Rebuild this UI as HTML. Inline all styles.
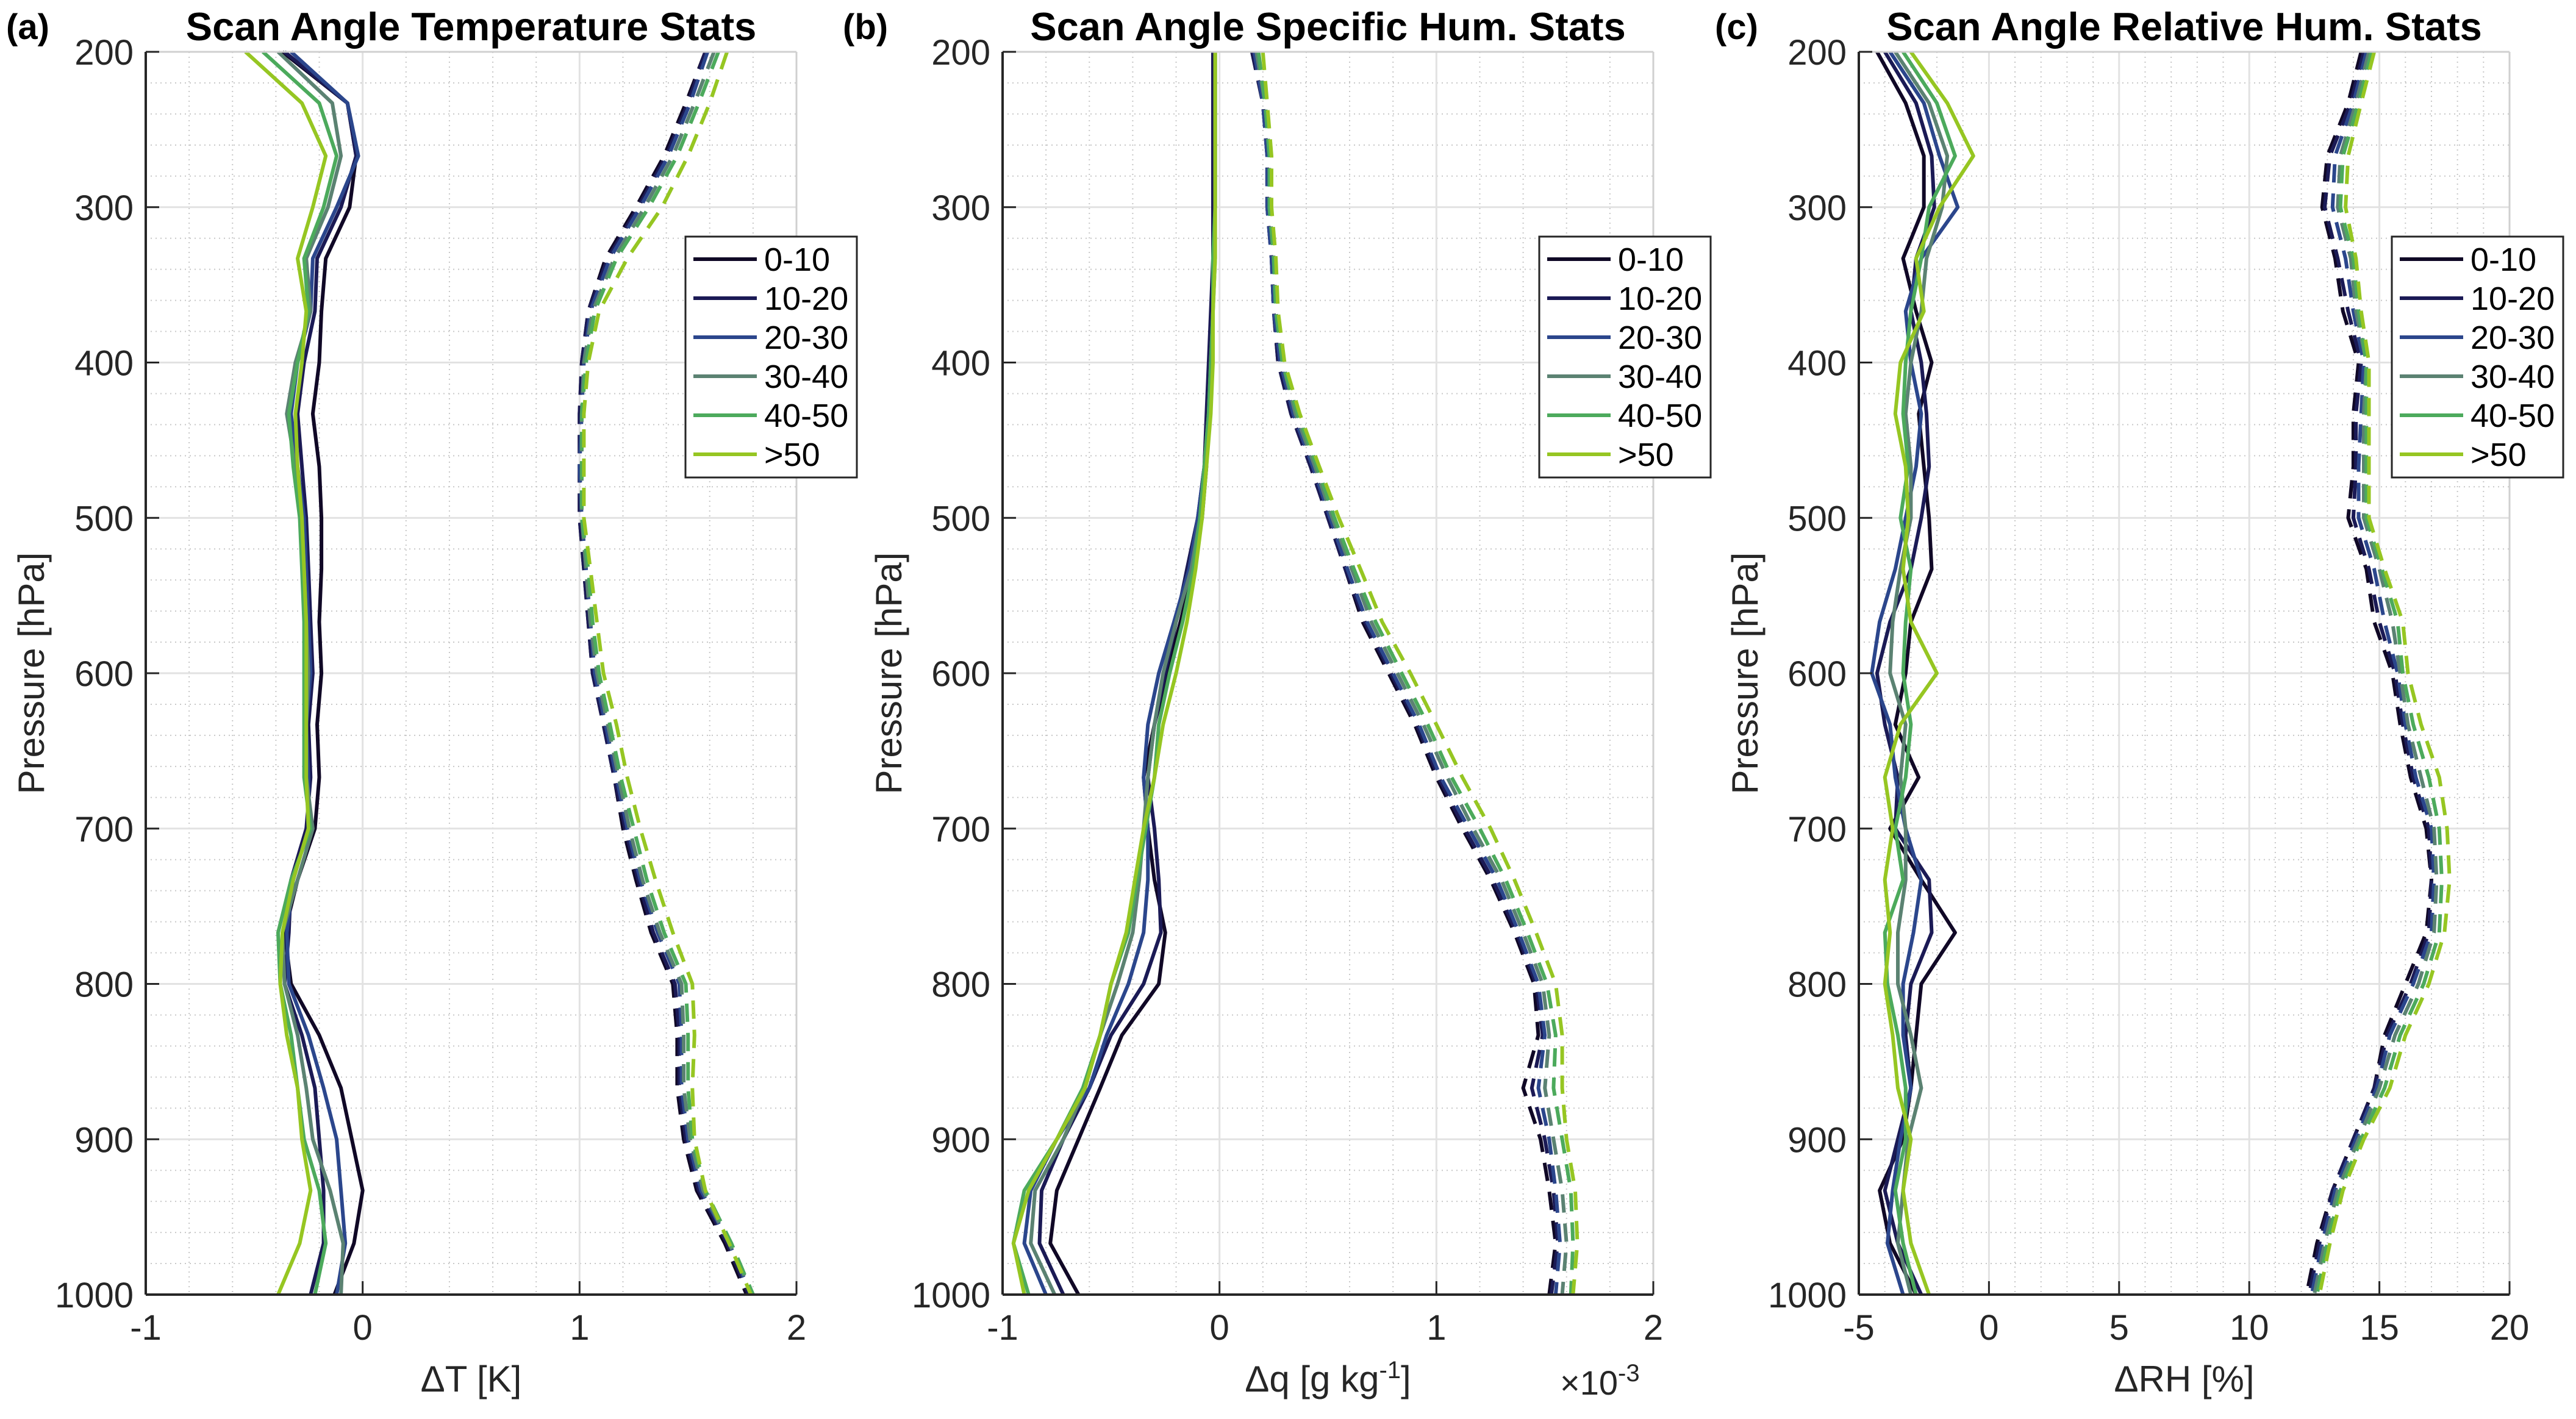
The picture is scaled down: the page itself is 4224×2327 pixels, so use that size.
<!DOCTYPE html>
<html><head><meta charset="utf-8">
<style>
html,body{margin:0;padding:0;background:#fff;}
svg{display:block;font-family:"Liberation Sans",Arial,sans-serif;}
</style></head>
<body>
<svg id="fig" width="4224" height="2327" viewBox="0 0 4224 2327" xmlns="http://www.w3.org/2000/svg"></svg>
<script>
const levels=[200,233,267,300,333,367,400,433,467,500,533,567,600,633,667,700,733,767,800,833,867,900,933,967,1000];
const seriesNames=["0-10","10-20","20-30","30-40","40-50",">50"];
const colors=["#100826","#1b1a55","#2b468c","#5b8272","#4caa5c","#96c622"];

// Panel (a) temperature means
const tMean0=[-0.37,-0.07,-0.03,-0.06,-0.17,-0.19,-0.2,-0.23,-0.2,-0.19,-0.19,-0.2,-0.19,-0.21,-0.2,-0.22,-0.3,-0.36,-0.33,-0.2,-0.1,-0.05,0,-0.04,-0.13];
const tMean1=[-0.36,-0.07,-0.03,-0.1,-0.21,-0.22,-0.27,-0.3,-0.28,-0.26,-0.25,-0.24,-0.23,-0.25,-0.24,-0.26,-0.33,-0.34,-0.36,-0.28,-0.22,-0.2,-0.18,-0.18,-0.24];
const tMean2=[-0.33,-0.07,-0.02,-0.12,-0.23,-0.24,-0.3,-0.33,-0.3,-0.27,-0.26,-0.25,-0.24,-0.26,-0.25,-0.25,-0.32,-0.35,-0.34,-0.25,-0.18,-0.12,-0.1,-0.08,-0.12];
const tMean3=[-0.39,-0.14,-0.1,-0.16,-0.26,-0.24,-0.31,-0.35,-0.31,-0.28,-0.27,-0.26,-0.25,-0.26,-0.26,-0.23,-0.3,-0.37,-0.36,-0.3,-0.26,-0.23,-0.15,-0.09,-0.1];
const tMean4=[-0.46,-0.2,-0.12,-0.18,-0.27,-0.25,-0.3,-0.34,-0.32,-0.29,-0.28,-0.27,-0.27,-0.27,-0.27,-0.24,-0.33,-0.39,-0.38,-0.33,-0.3,-0.27,-0.2,-0.17,-0.22];
const tMean5=[-0.54,-0.28,-0.17,-0.23,-0.3,-0.26,-0.28,-0.31,-0.3,-0.28,-0.27,-0.26,-0.26,-0.26,-0.26,-0.25,-0.32,-0.37,-0.38,-0.35,-0.3,-0.28,-0.24,-0.29,-0.39];
// Panel (a) temperature std
const tStd0=[1.58,1.49,1.39,1.26,1.12,1.04,1.01,1.0,1.0,1.0,1.02,1.04,1.06,1.11,1.16,1.2,1.26,1.33,1.43,1.45,1.45,1.48,1.54,1.67,1.77];
const tStd1=[1.58,1.5,1.4,1.27,1.13,1.04,1.01,1.0,1.0,1.0,1.02,1.04,1.06,1.11,1.16,1.21,1.27,1.34,1.44,1.46,1.46,1.49,1.55,1.68,1.78];
const tStd2=[1.59,1.51,1.41,1.28,1.14,1.05,1.02,1.01,1.0,1.01,1.03,1.05,1.07,1.12,1.17,1.22,1.28,1.36,1.46,1.47,1.47,1.5,1.56,1.69,1.79];
const tStd3=[1.62,1.53,1.43,1.3,1.16,1.06,1.02,1.01,1.01,1.01,1.03,1.05,1.08,1.13,1.18,1.23,1.29,1.37,1.47,1.48,1.48,1.51,1.57,1.69,1.8];
const tStd4=[1.64,1.55,1.45,1.32,1.17,1.07,1.03,1.01,1.01,1.01,1.04,1.06,1.09,1.14,1.19,1.25,1.31,1.39,1.49,1.5,1.5,1.52,1.58,1.7,1.8];
const tStd5=[1.68,1.6,1.5,1.38,1.22,1.09,1.04,1.02,1.02,1.02,1.05,1.08,1.11,1.17,1.22,1.28,1.35,1.43,1.52,1.53,1.52,1.53,1.58,1.69,1.79];

// Panel (b) specific humidity means (x1e-3)
const qMean0=[-0.03,-0.03,-0.03,-0.03,-0.03,-0.03,-0.04,-0.05,-0.06,-0.08,-0.12,-0.18,-0.24,-0.3,-0.35,-0.33,-0.3,-0.25,-0.28,-0.45,-0.55,-0.65,-0.75,-0.78,-0.65];
const qMean1=[-0.03,-0.03,-0.03,-0.03,-0.03,-0.04,-0.05,-0.06,-0.07,-0.1,-0.15,-0.2,-0.25,-0.3,-0.33,-0.3,-0.28,-0.27,-0.35,-0.5,-0.6,-0.72,-0.82,-0.83,-0.72];
const qMean2=[-0.02,-0.02,-0.02,-0.02,-0.03,-0.03,-0.04,-0.05,-0.07,-0.1,-0.14,-0.21,-0.28,-0.33,-0.35,-0.33,-0.33,-0.35,-0.42,-0.52,-0.6,-0.75,-0.87,-0.9,-0.8];
const qMean3=[-0.02,-0.02,-0.02,-0.02,-0.02,-0.03,-0.04,-0.05,-0.07,-0.09,-0.13,-0.2,-0.26,-0.3,-0.33,-0.35,-0.37,-0.4,-0.47,-0.55,-0.62,-0.72,-0.85,-0.87,-0.76];
const qMean4=[-0.02,-0.02,-0.02,-0.02,-0.03,-0.03,-0.04,-0.05,-0.07,-0.09,-0.12,-0.17,-0.23,-0.28,-0.3,-0.34,-0.38,-0.42,-0.5,-0.55,-0.63,-0.75,-0.9,-0.95,-0.88];
const qMean5=[-0.02,-0.02,-0.02,-0.02,-0.02,-0.03,-0.03,-0.04,-0.06,-0.08,-0.11,-0.15,-0.2,-0.26,-0.3,-0.35,-0.39,-0.43,-0.5,-0.55,-0.62,-0.75,-0.88,-0.95,-0.9];
// Panel (b) specific humidity std
const qStd0=[0.15,0.2,0.22,0.22,0.24,0.25,0.27,0.33,0.42,0.5,0.58,0.66,0.78,0.9,1.0,1.12,1.25,1.36,1.45,1.47,1.4,1.48,1.52,1.55,1.52];
const qStd1=[0.15,0.2,0.22,0.22,0.24,0.25,0.27,0.33,0.42,0.5,0.58,0.67,0.79,0.91,1.01,1.13,1.26,1.37,1.46,1.49,1.44,1.5,1.54,1.56,1.53];
const qStd2=[0.16,0.2,0.22,0.22,0.24,0.25,0.28,0.34,0.43,0.51,0.59,0.68,0.8,0.92,1.02,1.15,1.28,1.38,1.47,1.5,1.47,1.52,1.55,1.57,1.55];
const qStd3=[0.17,0.21,0.23,0.23,0.25,0.26,0.29,0.35,0.44,0.52,0.61,0.7,0.82,0.94,1.05,1.17,1.3,1.4,1.49,1.52,1.5,1.54,1.58,1.6,1.58];
const qStd4=[0.18,0.21,0.23,0.23,0.25,0.26,0.29,0.36,0.45,0.53,0.62,0.72,0.84,0.96,1.07,1.2,1.32,1.42,1.51,1.55,1.54,1.58,1.62,1.63,1.62];
const qStd5=[0.2,0.22,0.24,0.24,0.26,0.27,0.3,0.37,0.46,0.55,0.65,0.75,0.88,1.0,1.12,1.25,1.36,1.46,1.55,1.58,1.58,1.6,1.64,1.65,1.63];

// Panel (c) relative humidity means
const rMean0=[-4.3,-3.2,-2.5,-2.5,-3.3,-2.8,-2.2,-2.7,-2.5,-2.3,-2.2,-3.0,-3.2,-3.6,-2.7,-3.8,-2.6,-1.3,-2.6,-2.8,-3.0,-3.3,-4.2,-3.8,-2.8];
const rMean1=[-4.0,-2.8,-2.2,-2.1,-2.8,-3.0,-2.6,-2.4,-2.3,-2.6,-3.0,-3.8,-4.3,-4.0,-3.5,-3.6,-2.3,-2.2,-3.0,-3.2,-3.0,-3.5,-4.0,-3.5,-2.6];
const rMean2=[-3.8,-2.5,-1.9,-1.2,-2.6,-3.2,-3.0,-2.6,-2.8,-3.2,-3.6,-4.2,-4.5,-3.8,-3.6,-3.2,-2.6,-2.9,-3.3,-3.3,-3.0,-3.4,-3.7,-3.9,-3.3];
const rMean3=[-3.6,-2.3,-1.6,-1.8,-2.4,-2.6,-3.0,-3.2,-3.0,-3.0,-3.4,-3.7,-3.8,-3.2,-3.4,-3.2,-3.2,-3.5,-3.5,-3.0,-2.6,-3.1,-3.3,-3.5,-3.0];
const rMean4=[-3.3,-2.0,-1.3,-2.3,-2.6,-3.0,-3.2,-3.3,-3.1,-3.4,-3.0,-3.2,-3.3,-3.0,-3.2,-3.6,-3.3,-4.0,-3.9,-3.5,-3.2,-3.2,-3.6,-3.3,-2.8];
const rMean5=[-3.0,-1.6,-0.6,-1.9,-2.8,-2.5,-3.4,-3.6,-3.2,-3.1,-3.3,-3.0,-2.0,-3.4,-4.0,-3.7,-4.0,-3.8,-4.0,-3.7,-3.5,-3.0,-3.3,-3.0,-2.3];
// Panel (c) relative humidity std
const rStd0=[14.3,13.8,13.0,12.8,13.3,13.6,14.2,14.0,14.0,13.8,14.5,14.8,15.5,15.8,16.2,16.8,17.0,16.8,16.0,15.2,14.8,14.0,13.2,12.6,12.2];
const rStd1=[14.4,13.9,13.1,12.9,13.4,13.8,14.3,14.1,14.1,14.0,14.6,15.0,15.6,15.9,16.3,16.9,17.0,16.9,16.2,15.3,14.8,14.0,13.2,12.7,12.3];
const rStd2=[14.5,14.0,13.3,13.2,13.7,14.0,14.4,14.3,14.2,14.2,14.8,15.2,15.7,16.0,16.4,17.0,17.1,17.0,16.3,15.4,14.9,14.1,13.3,12.8,12.4];
const rStd3=[14.6,14.1,13.5,13.4,13.9,14.1,14.5,14.4,14.4,14.4,15.0,15.5,15.8,16.1,16.6,17.1,17.2,17.1,16.5,15.6,15.0,14.2,13.4,12.9,12.5];
const rStd4=[14.7,14.2,13.6,13.5,14.0,14.2,14.5,14.5,14.5,14.5,15.1,15.7,15.9,16.3,16.9,17.3,17.4,17.3,16.7,15.8,15.2,14.3,13.5,13.0,12.6];
const rStd5=[14.8,14.3,13.8,13.7,14.1,14.3,14.6,14.6,14.6,14.6,15.2,15.9,16.1,16.6,17.3,17.6,17.7,17.5,16.9,16.0,15.4,14.4,13.6,13.1,12.7];

const yTicks=[200,300,400,500,600,700,800,900,1000];
const xTicksA=[-1,0,1,2];
const xTicksB=[-1,0,1,2];
const xTicksC=[-5,0,5,10,15,20];

const NS="http://www.w3.org/2000/svg";
const svg=document.getElementById("fig");
function mk(tag,attrs,parent){const e=document.createElementNS(NS,tag);for(const k in attrs)e.setAttribute(k,attrs[k]);(parent||svg).appendChild(e);return e;}

const TOP=85,BOT=2123;
function yScale(p){return TOP+(p-200)/800*(BOT-TOP);}

const panels=[
 {key:"a",left:239,right:1306,xmin:-1,xmax:2,minor:0.2,ticks:xTicksA,title:"Scan Angle Temperature Stats",letter:"(a)",letterX:10,ylabX:52,xlabel:"ΔT [K]",
  means:[tMean0,tMean1,tMean2,tMean3,tMean4,tMean5],stds:[tStd0,tStd1,tStd2,tStd3,tStd4,tStd5],legX:1124},
 {key:"b",left:1644,right:2711,xmin:-1,xmax:2,minor:0.2,ticks:xTicksB,title:"Scan Angle Specific Hum. Stats",letter:"(b)",letterX:1382,ylabX:1458,xlabel:"Δq [g kg",
  means:[qMean0,qMean1,qMean2,qMean3,qMean4,qMean5],stds:[qStd0,qStd1,qStd2,qStd3,qStd4,qStd5],legX:2524},
 {key:"c",left:3048,right:4115,xmin:-5,xmax:20,minor:1,ticks:xTicksC,title:"Scan Angle Relative Hum. Stats",letter:"(c)",letterX:2812,ylabX:2862,xlabel:"ΔRH [%]",
  means:[rMean0,rMean1,rMean2,rMean3,rMean4,rMean5],stds:[rStd0,rStd1,rStd2,rStd3,rStd4,rStd5],legX:3922}
];

panels.forEach(P=>{
 const g=mk("g",{});
 
 
 const xs=v=>P.left+(v-P.xmin)/(P.xmax-P.xmin)*(P.right-P.left);
 const gg=mk("g",{},g);
 
 
 for(let v=P.xmin;v<=P.xmax+1e-9;v+=P.minor){const x=xs(v);mk("line",{x1:x,x2:x,y1:TOP,y2:BOT,stroke:"#c8c8c8","stroke-width":2,"stroke-dasharray":"2 6"},gg);}
 for(let p=200;p<=1000;p+=20){const y=yScale(p);mk("line",{x1:P.left,x2:P.right,y1:y,y2:y,stroke:"#c8c8c8","stroke-width":2,"stroke-dasharray":"2 6"},gg);}
 P.ticks.forEach(v=>{const x=xs(v);mk("line",{x1:x,x2:x,y1:TOP,y2:BOT,stroke:"#e2e2e2","stroke-width":3},gg);});
 yTicks.forEach(p=>{const y=yScale(p);mk("line",{x1:P.left,x2:P.right,y1:y,y2:y,stroke:"#e2e2e2","stroke-width":3},gg);});
 for(let s=0;s<6;s++){
  const pts=P.means[s].map((v,i)=>xs(v).toFixed(1)+","+yScale(levels[i]).toFixed(1)).join(" ");
  const l=mk("polyline",{points:pts,fill:"none",stroke:colors[s],"stroke-width":6,"stroke-linejoin":"round"},g);
  
  
  const pts2=P.stds[s].map((v,i)=>xs(v).toFixed(1)+","+yScale(levels[i]).toFixed(1)).join(" ");
  const d=mk("polyline",{points:pts2,fill:"none",stroke:colors[s],"stroke-width":6,"stroke-dasharray":"30 18"},g);
  
  
 }
 mk("line",{x1:P.left,x2:P.right,y1:TOP,y2:TOP,stroke:"#d0d0d0","stroke-width":3},g);
 mk("line",{x1:P.right,x2:P.right,y1:TOP,y2:BOT,stroke:"#d0d0d0","stroke-width":3},g);
 const xa=mk("line",{x1:P.left,x2:P.right,y1:BOT,y2:BOT,stroke:"#262626","stroke-width":4},g);
 
 
 const ya=mk("line",{x1:P.left,x2:P.left,y1:TOP,y2:BOT,stroke:"#262626","stroke-width":4},g);
 
 
 P.ticks.forEach(v=>{const x=xs(v);mk("line",{x1:x,x2:x,y1:BOT,y2:BOT-22,stroke:"#262626","stroke-width":3},g);
  const t=mk("text",{x:x,y:2197,"font-size":58,"text-anchor":"middle",fill:"#262626"},g);t.textContent=String(v);
  
  });
 yTicks.forEach(p=>{const y=yScale(p);mk("line",{x1:P.left,x2:P.left+22,y1:y,y2:y,stroke:"#262626","stroke-width":3},g);
  const t=mk("text",{x:P.left-20,y:y+21,"font-size":58,"text-anchor":"end",fill:"#262626"},g);t.textContent=String(p);
  
  });
 const tt=mk("text",{x:(P.left+P.right)/2,y:66,"font-size":65,"font-weight":"bold","text-anchor":"middle",fill:"#000"},g);tt.textContent=P.title;
 
 
 const lt=mk("text",{x:P.letterX,y:64,"font-size":58,"font-weight":"bold",fill:"#000"},g);lt.textContent=P.letter;
 
 
 const yl=mk("text",{x:P.ylabX,y:(TOP+BOT)/2,"font-size":60,"text-anchor":"middle",fill:"#262626",transform:`rotate(-90 ${P.ylabX} ${(TOP+BOT)/2})`,dy:20},g);yl.textContent="Pressure [hPa]";
 
 
 const xl=mk("text",{x:(P.left+P.right)/2,y:2282,"font-size":60,"text-anchor":"middle",fill:"#262626"},g);
 
 
 if(P.key==="b"){xl.textContent="Δq [g kg";const sp=mk("tspan",{"baseline-shift":"super","font-size":40},xl);sp.textContent="-1";const sp2=mk("tspan",{},xl);sp2.textContent="]";
  const ex=mk("text",{x:2558,y:2287,"font-size":56,fill:"#262626"},g);ex.textContent="×10";const es=mk("tspan",{"baseline-shift":"super","font-size":40},ex);es.textContent="-3";
  
  }
 else xl.textContent=P.xlabel;
 const lg=mk("g",{},g);
 
 
 mk("rect",{x:P.legX,y:388,width:281,height:395,fill:"#fff",stroke:"#262626","stroke-width":3},lg);
 for(let s=0;s<6;s++){const y=425+s*64;
  const e=mk("g",{},lg);
  
  
  mk("line",{x1:P.legX+13,x2:P.legX+117,y1:y,y2:y,stroke:colors[s],"stroke-width":6},e);
  const t=mk("text",{x:P.legX+129,y:y+19,"font-size":54,fill:"#000"},e);t.textContent=seriesNames[s];}
});
</script>
</body></html>
